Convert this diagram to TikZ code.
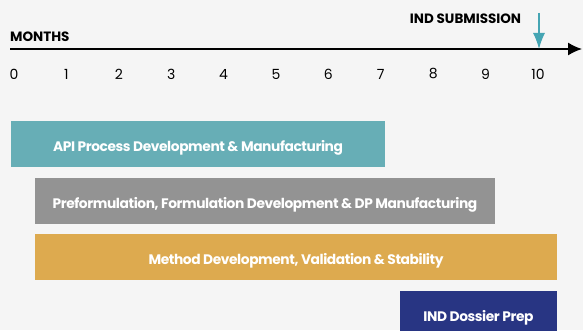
\documentclass[tikz,border=0pt]{standalone}
\usepackage{fontspec}
\setmainfont{Poppins}
\newfontfamily\barfont[LetterSpace=-3]{Poppins}
\usetikzlibrary{positioning,arrows.meta}
\definecolor{bgcol}{HTML}{F5F5F5}
\definecolor{apicol}{HTML}{67AEB6}
\definecolor{dpcol}{HTML}{939393}
\definecolor{methcol}{HTML}{DDAA4F}
\definecolor{indcol}{HTML}{283583}
\definecolor{subcol}{HTML}{45A5B3}
\tikzset{
    x=1pt,
    y=1pt,
    bar/.style = {
        shape=rectangle,
        minimum height=46pt,
        inner sep=0pt,
        text height=14pt,
        text depth=0pt,
        text=white,
        font=\barfont\bfseries\fontsize{13.8}{15}\selectfont
    },
    heading/.style = {
        inner sep=0pt,
        font=\bfseries\fontsize{13.5}{15}\selectfont
    },
    month/.style = {
        inner sep=0pt,
        font=\fontsize{14}{16}\selectfont
    },
}
\begin{document}
\begin{tikzpicture}
                \useasboundingbox (0,0) rectangle (583,330);
                \fill[bgcol] (0,0) rectangle (583,330);

                \coordinate (axstart) at (10,281);
                \coordinate (axend) at (582,281);
                \path[draw, line width=1.4pt, -{Latex[length=14pt,width=13pt]}] (axstart) -- (axend);
                \node[heading, anchor=west] (months) at (10,293) {MONTHS};
                \foreach \m in {0,...,10}
                    \node[month] (m\m) at (14+52.4*\m,256) {\m};

                \node[heading] (sub) at (465.5,311) {IND SUBMISSION};
                \coordinate (subtop) at (539,317);
                \coordinate (subtip) at (539,281);
                \path[draw, subcol, line width=1.2pt, -{Latex[length=16pt,width=12pt]}] (subtop) -- (subtip);

                \node[bar, fill=apicol, minimum width=374pt] (api) at (198,186) {API Process Development \& Manufacturing};
                \node[bar, fill=dpcol, minimum width=460pt] (dp) at (265,129) {Preformulation, Formulation Development \& DP Manufacturing};
                \node[bar, fill=methcol, minimum width=522pt] (meth) at (296,73) {Method Development, Validation \& Stability};
                \node[bar, fill=indcol, minimum width=157pt] (ind) at (478.5,16) {IND Dossier Prep};
\end{tikzpicture}
\end{document}
